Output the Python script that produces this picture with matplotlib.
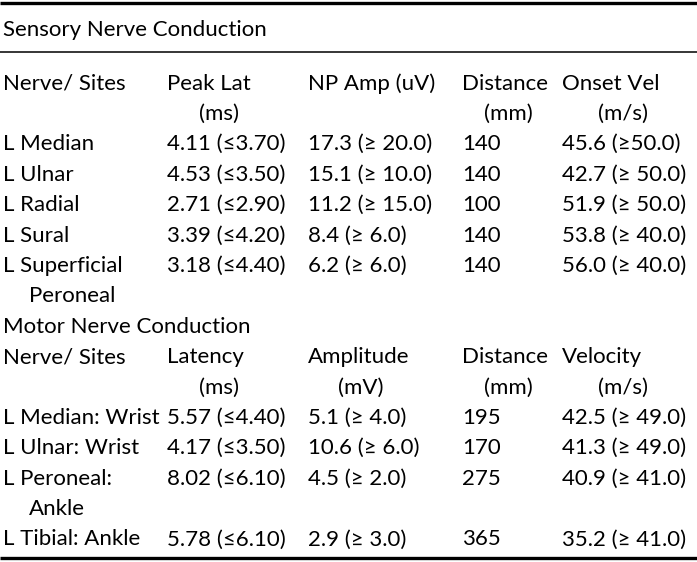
import matplotlib.pyplot as plt

plt.rcParams['font.family'] = ['Lato', 'DejaVu Sans']

sensory_title = 'Sensory Nerve Conduction'
sensory_header = ['Nerve/ Sites', 'Peak Lat', 'NP Amp (uV)', 'Distance', 'Onset Vel']
sensory_units = ['', '(ms)', '', '(mm)', '(m/s)']
sensory_rows = [
    ['L Median', '4.11 (≤3.70)', '17.3 (≥ 20.0)', '140', '45.6 (≥50.0)'],
    ['L Ulnar', '4.53 (≤3.50)', '15.1 (≥ 10.0)', '140', '42.7 (≥ 50.0)'],
    ['L Radial', '2.71 (≤2.90)', '11.2 (≥ 15.0)', '100', '51.9 (≥ 50.0)'],
    ['L Sural', '3.39 (≤4.20)', '8.4 (≥ 6.0)', '140', '53.8 (≥ 40.0)'],
    ['L Superficial\nPeroneal', '3.18 (≤4.40)', '6.2 (≥ 6.0)', '140', '56.0 (≥ 40.0)'],
]

motor_title = 'Motor Nerve Conduction'
motor_header = ['Nerve/ Sites', 'Latency', 'Amplitude', 'Distance', 'Velocity']
motor_units = ['', '(ms)', '(mV)', '(mm)', '(m/s)']
motor_rows = [
    ['L Median: Wrist', '5.57 (≤4.40)', '5.1 (≥ 4.0)', '195', '42.5 (≥ 49.0)'],
    ['L Ulnar: Wrist', '4.17 (≤3.50)', '10.6 (≥ 6.0)', '170', '41.3 (≥ 49.0)'],
    ['L Peroneal:\nAnkle', '8.02 (≤6.10)', '4.5 (≥ 2.0)', '275', '40.9 (≥ 41.0)'],
    ['L Tibial: Ankle', '5.78 (≤6.10)', '2.9 (≥ 3.0)', '365', '35.2 (≥ 41.0)'],
]

W, H = 697, 562
fig = plt.figure(figsize=(W / 100, H / 100), dpi=100)
ax = fig.add_axes([0, 0, 1, 1])
ax.set_xlim(0, W)
ax.set_ylim(H, 0)
ax.axis('off')

col_x = [3, 167, 308, 462, 562]
unit_x = {'(ms)': 199, '(mV)': 338, '(mm)': 484, '(m/s)': 598}
fs = 16
rh = 30.4
indent = 26
base = 7.5  # baseline offset from visual row centre


def put(x, y, s):
    ax.text(x, y + base, s, fontsize=fs, ha='left', va='baseline', color='black')


def put_row(y, cells):
    lines = 1
    for x, c in zip(col_x, cells):
        parts = c.split('\n')
        put(x, y, parts[0])
        for k, p in enumerate(parts[1:], start=1):
            put(x + indent, y + k * rh, p)
        lines = max(lines, len(parts))
    return y + lines * rh


def put_units(y, units):
    for u in units:
        if u:
            put(unit_x[u], y, u)


# rules
ax.plot([0, W], [2.5, 2.5], color='black', lw=2.4, solid_capstyle='butt')
ax.plot([0, W], [52, 52], color='black', lw=1.1, solid_capstyle='butt')
ax.plot([0, W], [558, 558], color='black', lw=2.4, solid_capstyle='butt')

put(3, 28, sensory_title)
y = 82
for x, h in zip(col_x, sensory_header):
    put(x, y, h)
y += rh
put_units(y, sensory_units)
y += rh
for r in sensory_rows:
    y = put_row(y, r)

put(3, y, motor_title)
y += rh
for x, h in zip(col_x, motor_header):
    put(x, y, h)
y += rh
put_units(y, motor_units)
y += rh
for r in motor_rows:
    y = put_row(y, r)

fig.savefig('out.png', dpi=100)
